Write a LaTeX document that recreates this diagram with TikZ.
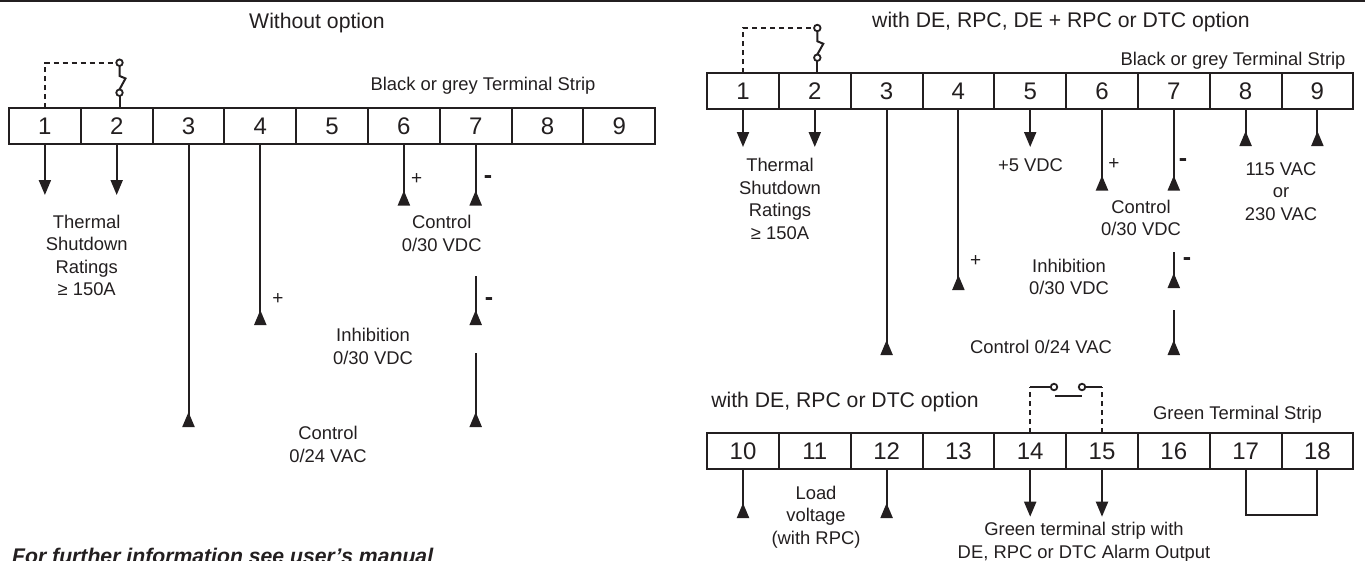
\documentclass[tikz,border=0pt]{standalone}
\usepackage{fontspec}
\setmainfont{Liberation Sans}
\usetikzlibrary{positioning,arrows.meta}
\definecolor{ink}{HTML}{231F20}
\tikzset{
    cell/.style={draw=ink, line width=2pt, minimum width=71.8pt, minimum height=36pt, inner sep=0pt, outer sep=0pt, text=ink, font=\fontsize{24}{26}\selectfont},
    lbl/.style={text=ink, inner sep=0pt, align=center, font=\fontsize{18.4}{22.5}\selectfont},
    ttl/.style={text=ink, inner sep=0pt, font=\fontsize{21.2}{24}\selectfont},
    sign/.style={text=ink, inner sep=0pt, font=\fontsize{19}{20}\selectfont},
    minus/.style={text=ink, inner sep=0pt, font=\fontsize{25}{26}\bfseries\selectfont},
    wire/.style={draw=ink, line width=2pt},
    wiredown/.style={wire, -{Triangle[length=15pt,width=12pt]}},
    wireup/.style={wire, -{Triangle[reversed,length=15pt,width=12pt]}},
    dashwire/.style={wire, dash pattern=on 5pt off 4pt},
    contact/.style={circle, draw=ink, line width=1.8pt, fill=white, minimum size=6.5pt, inner sep=0pt, outer sep=0pt}
}
\begin{document}
\begin{tikzpicture}[x=1pt, y=-1pt]
    \useasboundingbox (0,0) rectangle (1365,560);
    \coordinate (ruleL) at (0,1);
    \coordinate (ruleR) at (1365,1);
    \draw[wire, line width=1.5pt] (ruleL) -- (ruleR);

    % left strip
    \node[cell] (a1) at (44.9,126) {1};
    \node[cell, right=0pt of a1] (a2) {2};
    \node[cell, right=0pt of a2] (a3) {3};
    \node[cell, right=0pt of a3] (a4) {4};
    \node[cell, right=0pt of a4] (a5) {5};
    \node[cell, right=0pt of a5] (a6) {6};
    \node[cell, right=0pt of a6] (a7) {7};
    \node[cell, right=0pt of a7] (a8) {8};
    \node[cell, right=0pt of a8] (a9) {9};
    \coordinate[below=51pt of a1] (a1e);
    \coordinate[below=51pt of a2] (a2e);
    \coordinate[below=283pt of a3] (a3e);
    \coordinate[below=181pt of a4] (a4e);
    \coordinate[below=61.5pt of a6] (a6e);
    \coordinate[below=61.5pt of a7] (a7e);
    \coordinate[below=132pt of a7] (a7s);
    \coordinate[below=181pt of a7] (a7t);
    \coordinate[below=209pt of a7] (a7u);
    \coordinate[below=283pt of a7] (a7v);
    \draw[wiredown] (a1.south) -- (a1e);
    \draw[wiredown] (a2.south) -- (a2e);
    \draw[wireup] (a3.south) -- (a3e);
    \draw[wireup] (a4.south) -- (a4e);
    \draw[wireup] (a6.south) -- (a6e);
    \draw[wireup] (a7.south) -- (a7e);
    \draw[wireup] (a7s) -- (a7t);
    \draw[wireup] (a7u) -- (a7v);
    \node[contact] (a2u) at (119.5,62.7) {};
    \node[contact] (a2l) at (119.5,92.7) {};
    \draw[dashwire] (a1.north) |- (a2u.west);
    \draw[wire] (a2u.south) -- ++(0,10) -- ++(6,2.5) -- (a2l.north);
    \draw[wire] (a2l.south) -- (a2l |- a2.north);

    \node[ttl] (ttla) at (317,23) {Without option};
    \node[lbl] (strip) at (483,86) {Black or grey Terminal Strip};
    \node[lbl] (therm) at (86.7,255.3) {Thermal\\Shutdown\\Ratings\\≥ 150A};
    \node[lbl] (ctl) at (441.7,233.5) {Control\\0/30 VDC};
    \node[lbl] (inh) at (373,346.5) {Inhibition\\0/30 VDC};
    \node[lbl] (ctlac) at (328,444.3) {Control\\0/24 VAC};
    \node[sign] (p4) at (278,299.5) {+};
    \node[sign] (p6) at (416.7,179) {+};
    \node[minus] (m7) at (488,180) {-};
    \node[minus] (m7s) at (489,302) {-};
    \node[text=ink, inner sep=0pt, anchor=base west, font=\fontsize{21.2}{24}\bfseries\itshape\selectfont] (info) at (12,563) {For further information see user’s manual};

    % right strip
    \node[cell] (b1) at (743,91) {1};
    \node[cell, right=0pt of b1] (b2) {2};
    \node[cell, right=0pt of b2] (b3) {3};
    \node[cell, right=0pt of b3] (b4) {4};
    \node[cell, right=0pt of b4] (b5) {5};
    \node[cell, right=0pt of b5] (b6) {6};
    \node[cell, right=0pt of b6] (b7) {7};
    \node[cell, right=0pt of b7] (b8) {8};
    \node[cell, right=0pt of b8] (b9) {9};
    \coordinate[below=38pt of b1] (b1e);
    \coordinate[below=38pt of b2] (b2e);
    \coordinate[below=246pt of b3] (b3e);
    \coordinate[below=181pt of b4] (b4e);
    \coordinate[below=38pt of b5] (b5e);
    \coordinate[below=81.5pt of b6] (b6e);
    \coordinate[below=81.5pt of b7] (b7e);
    \coordinate[below=37pt of b8] (b8e);
    \coordinate[below=37pt of b9] (b9e);
    \coordinate[below=143pt of b7] (b7s);
    \coordinate[below=179pt of b7] (b7t);
    \coordinate[below=201pt of b7] (b7u);
    \coordinate[below=246pt of b7] (b7v);
    \draw[wiredown] (b1.south) -- (b1e);
    \draw[wiredown] (b2.south) -- (b2e);
    \draw[wireup] (b3.south) -- (b3e);
    \draw[wireup] (b4.south) -- (b4e);
    \draw[wiredown] (b5.south) -- (b5e);
    \draw[wireup] (b6.south) -- (b6e);
    \draw[wireup] (b7.south) -- (b7e);
    \draw[wireup] (b8.south) -- (b8e);
    \draw[wireup] (b9.south) -- (b9e);
    \draw[wireup] (b7s) -- (b7t);
    \draw[wireup] (b7u) -- (b7v);
    \node[contact] (b2u) at (817.3,28) {};
    \node[contact] (b2l) at (817.3,57.7) {};
    \draw[dashwire] (b1.north) |- (b2u.west);
    \draw[wire] (b2u.south) -- ++(0,10) -- ++(6,2.5) -- (b2l.north);
    \draw[wire] (b2l.south) -- (b2l |- b2.north);

    \node[ttl] (ttlb) at (1061,22) {with DE, RPC, DE + RPC or DTC option};
    \node[lbl] (stripr) at (1233,61) {Black or grey Terminal Strip};
    \node[lbl] (thermr) at (780,199) {Thermal\\Shutdown\\Ratings\\≥ 150A};
    \node[lbl] (volt) at (1030.5,165.5) {+5 VDC};
    \node[lbl] (mains) at (1281,191.5) {115 VAC\\or\\230 VAC};
    \node[lbl] (ctlr) at (1141,218) {Control\\0/30 VDC};
    \node[lbl] (inhr) at (1069,277) {Inhibition\\0/30 VDC};
    \node[lbl] (ctlacr) at (1041,347) {Control 0/24 VAC};
    \node[sign] (q4) at (975.7,261) {+};
    \node[sign] (q6) at (1114,164) {+};
    \node[minus] (n7) at (1183,163) {-};
    \node[minus] (n7s) at (1187,262) {-};

    % green strip
    \node[cell] (c10) at (743,451) {10};
    \node[cell, right=0pt of c10] (c11) {11};
    \node[cell, right=0pt of c11] (c12) {12};
    \node[cell, right=0pt of c12] (c13) {13};
    \node[cell, right=0pt of c13] (c14) {14};
    \node[cell, right=0pt of c14] (c15) {15};
    \node[cell, right=0pt of c15] (c16) {16};
    \node[cell, right=0pt of c16] (c17) {17};
    \node[cell, right=0pt of c17] (c18) {18};
    \coordinate[below=49pt of c10] (c10e);
    \coordinate[below=49pt of c12] (c12e);
    \coordinate[below=47.7pt of c14] (c14e);
    \coordinate[below=47.7pt of c15] (c15e);
    \coordinate[below=45.7pt of c17] (c17e);
    \coordinate[below=45.7pt of c18] (c18e);
    \draw[wireup] (c10.south) -- (c10e);
    \draw[wireup] (c12.south) -- (c12e);
    \draw[wiredown] (c14.south) -- (c14e);
    \draw[wiredown] (c15.south) -- (c15e);
    \draw[wire] (c17.south) -- (c17e) -- (c18e) -- (c18.south);
    \node[contact] (c14u) at (1054,387) {};
    \node[contact] (c15u) at (1082,387) {};
    \coordinate (barL) at (1055,396);
    \coordinate (barR) at (1082,396);
    \coordinate (c14k) at (c14.north |- c14u);
    \coordinate (c15k) at (c15.north |- c15u);
    \draw[dashwire] (c14.north) -- (c14k);
    \draw[dashwire] (c15.north) -- (c15k);
    \draw[wire] (c14k) -- (c14u.west);
    \draw[wire] (c15k) -- (c15u.east);
    \draw[wire] (barL) -- (barR);

    \node[ttl] (ttlc) at (845,402.5) {with DE, RPC or DTC option};
    \node[lbl] (stripc) at (1237.5,415) {Green Terminal Strip};
    \node[lbl] (load) at (816,517) {Load\\voltage\\(with RPC)};
    \node[lbl] (alarm) at (1084,542) {Green terminal strip with\\DE, RPC or DTC Alarm Output};
\end{tikzpicture}
\end{document}
